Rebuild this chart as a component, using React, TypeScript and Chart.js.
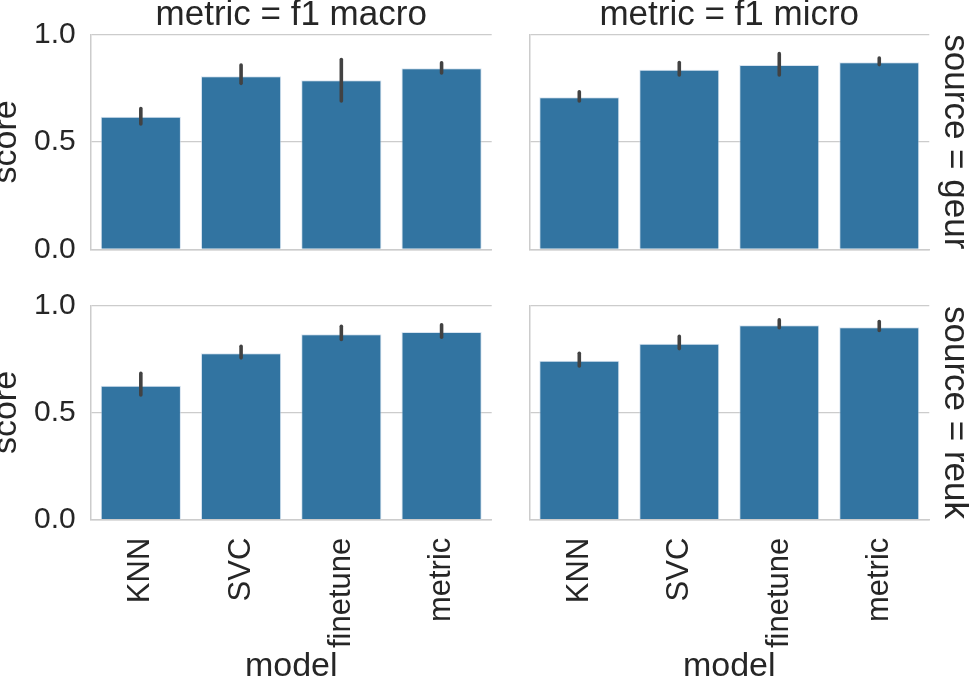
import React, { useEffect, useRef } from "react";
import { Chart, registerables } from "chart.js";

Chart.register(...registerables);

const categories = ["KNN", "SVC", "finetune", "metric"];
const yTicks = [0, 0.5, 1.0];

const macroGeur = [0.617, 0.805, 0.786, 0.842];
const macroGeurLo = [0.583, 0.772, 0.69, 0.82];
const macroGeurHi = [0.655, 0.857, 0.883, 0.868];

const microGeur = [0.707, 0.835, 0.857, 0.87];
const microGeurLo = [0.69, 0.811, 0.811, 0.859];
const microGeurHi = [0.733, 0.869, 0.91, 0.89];

const macroReuk = [0.625, 0.776, 0.865, 0.875];
const macroReukLo = [0.582, 0.755, 0.841, 0.851];
const macroReukHi = [0.683, 0.809, 0.902, 0.909];

const microReuk = [0.741, 0.821, 0.907, 0.898];
const microReukLo = [0.717, 0.798, 0.895, 0.883];
const microReukHi = [0.776, 0.855, 0.932, 0.924];

const BAR = "#3274a1";
const INK = "#262626";
const GRID = "#cccccc";
const FONT = "'Liberation Sans', Arial, sans-serif";

// draws the seaborn style error bars on top of each bar
const errBars = {
  id: "errBars",
  afterDatasetsDraw(chart: any, _args: any, opts: any) {
    const meta = chart.getDatasetMeta(0);
    const y = chart.scales.y;
    const ctx = chart.ctx;
    ctx.save();
    ctx.strokeStyle = "#424242";
    ctx.lineWidth = 3.6;
    ctx.lineCap = "round";
    meta.data.forEach((bar: any, i: number) => {
      ctx.beginPath();
      ctx.moveTo(bar.x, y.getPixelForValue(opts.lo[i]));
      ctx.lineTo(bar.x, y.getPixelForValue(opts.hi[i]));
      ctx.stroke();
    });
    ctx.restore();
  },
};

interface PanelProps {
  values: number[];
  lo: number[];
  hi: number[];
  colTitle?: string;
  rowTitle?: string;
  left: number;
  top: number;
  width: number;
  height: number;
  yWidth: number;
  xHeight: number;
  padTop: number;
  padRight: number;
  showY: boolean;
  showX: boolean;
}

const Panel: React.FC<PanelProps> = (p) => {
  const chartRef = useRef<HTMLCanvasElement>(null);
  const chartInstance = useRef<Chart | null>(null);

  useEffect(() => {
    if (!chartRef.current) return;
    if (chartInstance.current) chartInstance.current.destroy();

    chartInstance.current = new Chart(chartRef.current, {
      type: "bar",
      data: {
        labels: categories,
        datasets: [
          {
            data: p.values,
            backgroundColor: BAR,
            borderColor: "rgba(190,210,230,0.6)",
            borderWidth: 1,
            barPercentage: 0.8,
            categoryPercentage: 1,
          },
        ],
      },
      plugins: [errBars],
      options: {
        animation: false,
        responsive: true,
        maintainAspectRatio: false,
        layout: { padding: { top: p.padTop, right: p.padRight, left: 0, bottom: 0 } },
        plugins: {
          legend: { display: false },
          tooltip: { enabled: false },
          title: {
            display: !!p.colTitle,
            text: p.colTitle || "",
            color: INK,
            fullSize: false,
            font: { family: FONT, size: 35, weight: "normal", lineHeight: 0.886 },
            padding: { top: 0, bottom: 3.3 },
          },
          subtitle: {
            display: !!p.rowTitle,
            text: p.rowTitle || "",
            position: "right",
            color: INK,
            fullSize: false,
            font: { family: FONT, size: 35, weight: "normal", lineHeight: 0.83 },
            padding: { top: 0, bottom: 10.7 },
          },
          errBars: { lo: p.lo, hi: p.hi },
        } as any,
        scales: {
          x: {
            grid: { display: false, drawTicks: false },
            border: { display: true, color: GRID, width: 1.5 },
            ticks: {
              display: p.showX,
              color: INK,
              font: { family: FONT, size: 31 },
              minRotation: 90,
              maxRotation: 90,
              autoSkip: false,
              padding: 18,
            },
            title: {
              display: p.showX,
              text: "model",
              color: INK,
              font: { family: FONT, size: 34, lineHeight: 0.87 },
              padding: 0,
            },
            afterFit: (s: any) => {
              s.height = p.xHeight;
            },
          },
          y: {
            min: 0,
            max: 1,
            afterBuildTicks: (s: any) => {
              s.ticks = yTicks.map((v) => ({ value: v }));
            },
            grid: { color: GRID, lineWidth: 1.3, drawTicks: false },
            border: { display: true, color: GRID, width: 1.5 },
            ticks: {
              display: p.showY,
              color: INK,
              font: { family: FONT, size: 30 },
              padding: 15,
              callback: (v: any) => Number(v).toFixed(1),
            },
            title: {
              display: p.showY,
              text: "score",
              color: INK,
              font: { family: FONT, size: 34, lineHeight: 0.37 },
              padding: 0,
            },
            afterFit: (s: any) => {
              s.width = p.yWidth;
            },
          },
        },
      },
    });

    return () => {
      if (chartInstance.current) {
        chartInstance.current.destroy();
        chartInstance.current = null;
      }
    };
  }, []);

  return (
    <div
      style={{
        position: "absolute",
        left: p.left,
        top: p.top,
        width: p.width,
        height: p.height,
      }}
    >
      <canvas ref={chartRef} />
    </div>
  );
};

const App: React.FC = () => {
  const leftCol = { left: 0, width: 500, yWidth: 90.7, padRight: 8.3, showY: true };
  const rightCol = { left: 500, width: 469, yWidth: 29.3, padRight: 0, showY: false };
  // top row canvas reaches below the axis so the "0.0" label has room
  const topRow = { top: 0, height: 290, padTop: 0, xHeight: 40.7, showX: false };
  const botRow = { top: 270, height: 411, padTop: 35.3, xHeight: 161.3, showX: true };

  return (
    <div
      style={{
        position: "absolute",
        left: 0,
        top: 0,
        width: 969,
        height: 681,
        overflow: "hidden",
        background: "#ffffff",
      }}
    >
      <Panel {...leftCol} {...topRow} values={macroGeur} lo={macroGeurLo} hi={macroGeurHi} colTitle="metric = f1 macro" />
      <Panel {...rightCol} {...topRow} values={microGeur} lo={microGeurLo} hi={microGeurHi} colTitle="metric = f1 micro" rowTitle="source = geur" />
      <Panel {...leftCol} {...botRow} values={macroReuk} lo={macroReukLo} hi={macroReukHi} />
      <Panel {...rightCol} {...botRow} values={microReuk} lo={microReukLo} hi={microReukHi} rowTitle="source = reuk" />
    </div>
  );
};

export default App;
